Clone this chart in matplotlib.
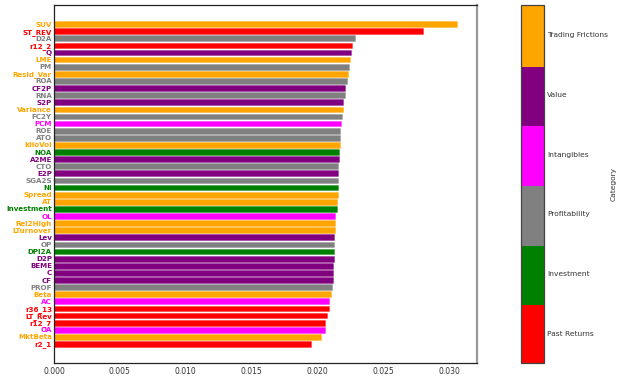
import numpy as np
import matplotlib.pyplot as plt
from matplotlib.colors import ListedColormap, BoundaryNorm, to_rgba
import matplotlib as mpl

# characteristics, sorted by importance (top to bottom)
features = ['SUV', 'ST_REV', 'D2A', 'r12_2', 'Q', 'LME', 'PM', 'Resid_Var', 'ROA', 'CF2P',
            'RNA', 'S2P', 'Variance', 'FC2Y', 'PCM', 'ROE', 'ATO', 'IdioVol', 'NOA', 'A2ME',
            'CTO', 'E2P', 'SGA2S', 'NI', 'Spread', 'AT', 'Investment', 'OL', 'Rel2High', 'LTurnover',
            'Lev', 'OP', 'DPI2A', 'D2P', 'BEME', 'C', 'CF', 'PROF', 'Beta', 'AC',
            'r36_13', 'LT_Rev', 'r12_7', 'OA', 'MktBeta', 'r2_1']

importance = [0.03058, 0.02803, 0.02283, 0.02263, 0.02255, 0.02250, 0.02242, 0.02230, 0.02225, 0.02207,
              0.02205, 0.02197, 0.02195, 0.02189, 0.02182, 0.02174, 0.02172, 0.02170, 0.02161, 0.02161,
              0.02159, 0.02159, 0.02157, 0.02157, 0.02152, 0.02149, 0.02146, 0.02136, 0.02134, 0.02134,
              0.02127, 0.02127, 0.02127, 0.02124, 0.02121, 0.02119, 0.02116, 0.02109, 0.02106, 0.02086,
              0.02086, 0.02073, 0.02060, 0.02055, 0.02028, 0.01949]

group = ['Trading Frictions', 'Past Returns', 'Profitability', 'Past Returns', 'Value',
         'Trading Frictions', 'Profitability', 'Trading Frictions', 'Profitability', 'Value',
         'Profitability', 'Value', 'Trading Frictions', 'Profitability', 'Intangibles',
         'Profitability', 'Profitability', 'Trading Frictions', 'Investment', 'Value',
         'Profitability', 'Value', 'Profitability', 'Investment', 'Trading Frictions',
         'Trading Frictions', 'Investment', 'Intangibles', 'Trading Frictions', 'Trading Frictions',
         'Value', 'Profitability', 'Investment', 'Value', 'Value',
         'Value', 'Value', 'Profitability', 'Trading Frictions', 'Intangibles',
         'Past Returns', 'Past Returns', 'Past Returns', 'Intangibles', 'Trading Frictions',
         'Past Returns']

# category order as in the colorbar (bottom to top)
categories = ['Past Returns', 'Investment', 'Profitability', 'Intangibles', 'Value', 'Trading Frictions']
cat_colors = ['red', 'green', 'gray', 'magenta', 'purple', 'orange']
col = dict(zip(categories, cat_colors))

fig = plt.figure(figsize=(6.23, 3.78), dpi=100)
ax = fig.add_axes([0.0867, 0.0397, 0.679, 0.947])

y = np.arange(len(features))
colors = [col[g] for g in group]
ax.barh(y, importance, height=0.8, color=colors,
        edgecolor=[to_rgba(c, 0.3) for c in colors], linewidth=0.7)
ax.set_ylim(len(features) - 1 + 2.67, -2.67)
ax.set_yticks(y)
ax.set_yticklabels(features, fontsize=5.1, fontweight='bold')
for lbl, c in zip(ax.get_yticklabels(), colors):
    lbl.set_color(c)
ax.tick_params(axis='y', length=0, pad=1.5)
ax.tick_params(axis='x', length=0, pad=3, labelsize=5.5, colors='#333333')
ax.set_xticks([0.0, 0.005, 0.01, 0.015, 0.02, 0.025, 0.03])
ax.set_xticklabels(['0.000', '0.005', '0.010', '0.015', '0.020', '0.025', '0.030'])
for s in ax.spines.values():
    s.set_color('#222222')
    s.set_linewidth(0.9)
ax.spines['right'].set_color('#999999')
ax.spines['right'].set_linewidth(1.6)

# colorbar for the categories
cax = fig.add_axes([0.8363, 0.0397, 0.0369, 0.947])
cmap = ListedColormap(cat_colors)
norm = BoundaryNorm(np.arange(len(categories) + 1), cmap.N)
cb = fig.colorbar(mpl.cm.ScalarMappable(norm=norm, cmap=cmap), cax=cax)
cb.solids.set_edgecolor('face')
cb.minorticks_off()
cb.set_ticks(np.arange(len(categories)) + 0.5)
cb.set_ticklabels(categories)
cb.ax.tick_params(length=0, labelsize=5.4, pad=2, colors='#333333')
cb.outline.set_edgecolor('#444444')
cb.outline.set_linewidth(0.9)
cb.set_label('Category', fontsize=5.4, color='#333333', labelpad=2)

fig.savefig('out.png', dpi=100)
